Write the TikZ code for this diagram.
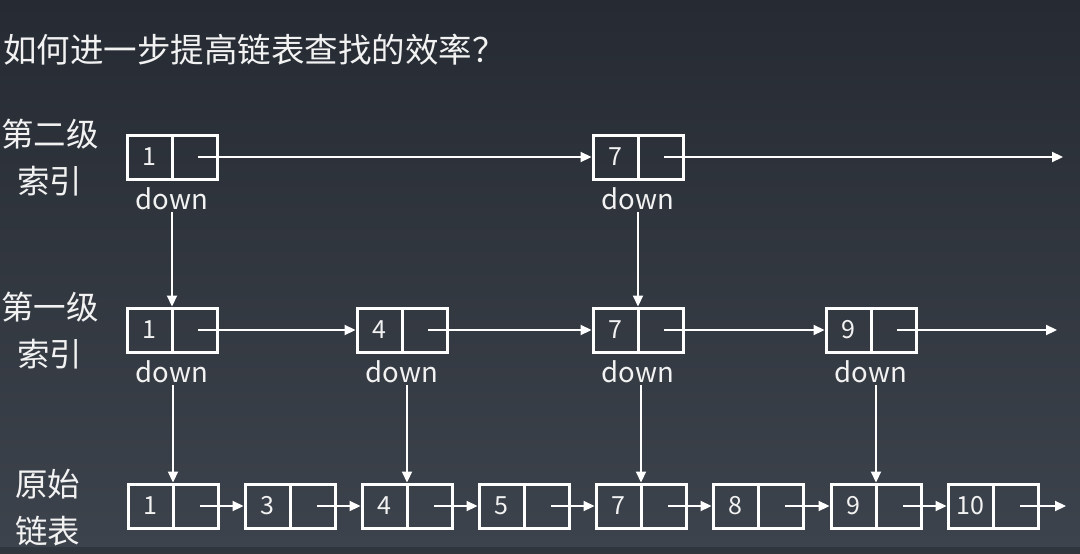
\documentclass[tikz,border=0pt]{standalone}
\usepackage{fontspec}
\setmainfont{Noto Sans CJK SC}
\usetikzlibrary{arrows.meta}

\definecolor{bgtop}{RGB}{38,43,51}
\definecolor{bgbot}{RGB}{61,67,76}
\definecolor{ink}{RGB}{242,242,242}

% number in the left half of a 90pt wide cell
\newcommand{\cellnum}[1]{\makebox[90pt][l]{\makebox[45pt]{#1}}}

\tikzset{
  cell/.style={draw=white, line width=3pt, minimum width=88pt, minimum height=44pt,
    inner sep=0pt, text=ink, font=\fontsize{25}{25}\selectfont,
    path picture={\draw[white, line width=3pt]
      (path picture bounding box.north) -- (path picture bounding box.south);}},
  downlbl/.style={text=ink, inner sep=1.5pt, font=\fontsize{27.5}{27.5}\selectfont},
  rowlbl/.style={text=ink, align=center, inner sep=0pt, font=\fontsize{32.5}{47}\selectfont},
  arr/.style={white, line width=2.2pt, -{Triangle[length=11pt,width=10pt]}},
}

\begin{document}
\begin{tikzpicture}[x=1pt, y=-1pt]
  % backdrop
  \useasboundingbox (0,0) rectangle (1080,554);
  \shade[top color=bgtop, bottom color=bgbot] (0,0) rectangle (1080,547);
  \fill[bgtop!55!bgbot] (0,547) rectangle (1080,554);

  % heading
  \node[anchor=west, text=ink, inner sep=0pt, font=\fontsize{33.5}{33.5}\selectfont]
    (title) at (3,50) {如何进一步提高链表查找的效率？};

  % row captions
  \node[rowlbl] (cap2) at (50,158) {第二级\\索引};
  \node[rowlbl] (cap1) at (50,331) {第一级\\索引};
  \node[rowlbl] (cap0) at (48,508) {原始\\链表};

  % second-level index
  \node[cell] (b21) at (172,157) {\cellnum{1}};
  \node[cell] (b27) at (638,157) {\cellnum{7}};
  \node[downlbl] (d21) at (172,199) {down};
  \node[downlbl] (d27) at (638,199) {down};

  % first-level index
  \node[cell] (b11) at (172,330) {\cellnum{1}};
  \node[cell] (b14) at (402,330) {\cellnum{4}};
  \node[cell] (b17) at (638,330) {\cellnum{7}};
  \node[cell] (b19) at (871,330) {\cellnum{9}};
  \node[downlbl] (d11) at (172,372) {down};
  \node[downlbl] (d14) at (402,372) {down};
  \node[downlbl] (d17) at (638,372) {down};
  \node[downlbl] (d19) at (871,372) {down};

  % original list
  \node[cell] (b01)  at (173,506) {\cellnum{1}};
  \node[cell] (b03)  at (290,506) {\cellnum{3}};
  \node[cell] (b04)  at (407,506) {\cellnum{4}};
  \node[cell] (b05)  at (524,506) {\cellnum{5}};
  \node[cell] (b07)  at (641,506) {\cellnum{7}};
  \node[cell] (b08)  at (758,506) {\cellnum{8}};
  \node[cell] (b09)  at (876,506) {\cellnum{9}};
  \node[cell] (b010) at (993,506) {\cellnum{10}};

  % open ends of each level
  \coordinate (end2) at (1063,157);
  \coordinate (end1) at (1057,330);
  \coordinate (end0) at (1066,506);

  % next pointers
  \draw[arr] ([xshift=26pt]b21.center) -- (b27.west);
  \draw[arr] ([xshift=26pt]b27.center) -- (end2);

  \draw[arr] ([xshift=26pt]b11.center) -- (b14.west);
  \draw[arr] ([xshift=26pt]b14.center) -- (b17.west);
  \draw[arr] ([xshift=26pt]b17.center) -- (b19.west);
  \draw[arr] ([xshift=26pt]b19.center) -- (end1);

  \draw[arr] ([xshift=27pt]b01.center) -- (b03.west);
  \draw[arr] ([xshift=27pt]b03.center) -- (b04.west);
  \draw[arr] ([xshift=27pt]b04.center) -- (b05.west);
  \draw[arr] ([xshift=27pt]b05.center) -- (b07.west);
  \draw[arr] ([xshift=27pt]b07.center) -- (b08.west);
  \draw[arr] ([xshift=27pt]b08.center) -- (b09.west);
  \draw[arr] ([xshift=27pt]b09.center) -- (b010.west);
  \draw[arr] ([xshift=27pt]b010.center) -- (end0);

  % down pointers
  \draw[arr] (d21.south -| b11.north) -- (b11.north);
  \draw[arr] (d27.south -| b17.north) -- (b17.north);
  \draw[arr] (d11.south -| b01.north) -- (b01.north);
  \draw[arr] (d14.south -| b04.north) -- (b04.north);
  \draw[arr] (d17.south -| b07.north) -- (b07.north);
  \draw[arr] (d19.south -| b09.north) -- (b09.north);
\end{tikzpicture}
\end{document}
